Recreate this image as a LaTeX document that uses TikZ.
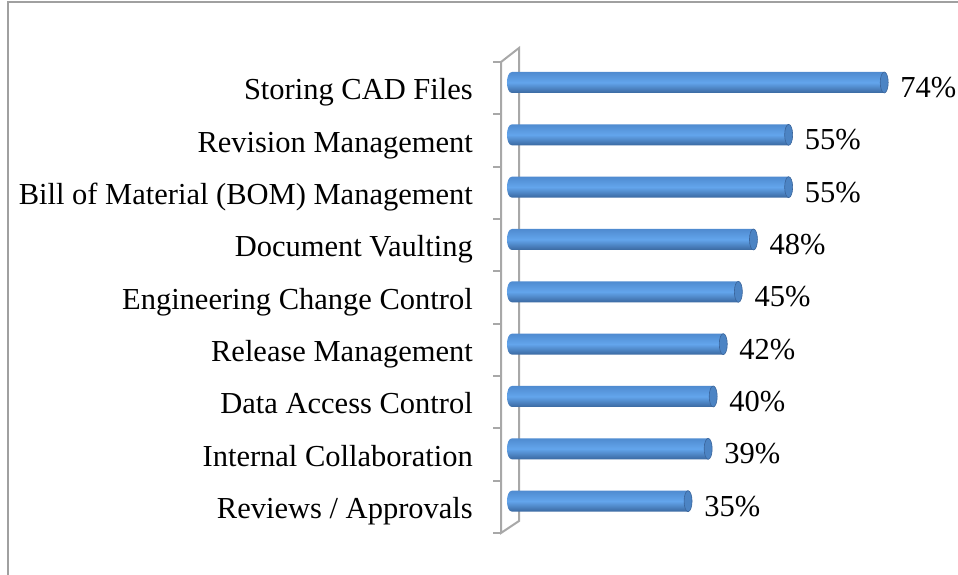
\documentclass[tikz,border=0pt]{standalone}
\usepackage{fontspec}
\setmainfont{Liberation Serif}
\definecolor{frame}{HTML}{A0A0A0}
\definecolor{wall}{HTML}{A8A8A8}
\definecolor{bartop}{HTML}{4F8BD0}
\definecolor{barmid}{HTML}{63A5EC}
\definecolor{barbot}{HTML}{3A68A0}
\definecolor{barcap}{HTML}{4C84C4}
\definecolor{capedge}{HTML}{3A649A}
\tikzset{
  catlabel/.style={anchor=base east, inner sep=0pt, font=\fontsize{30.5}{36}\selectfont},
  vallabel/.style={anchor=base west, inner sep=0pt, font=\fontsize{30.5}{36}\selectfont},
  wallline/.style={draw=wall, line width=2pt},
  barbody/.style={top color=bartop, bottom color=barbot, middle color=barmid},
  barend/.style={fill=barcap, draw=capedge, line width=0.6pt}
}
\begin{document}
\begin{tikzpicture}[x=1pt,y=-1pt]
\useasboundingbox (0,0) rectangle (958,575);
% outer frame (top and left only)
\draw[frame, line width=1.8pt] (8,575) -- (8,2) -- (958,2);
% 3D axis wall
\coordinate (ft) at (501,62);
\coordinate (fb) at (501,533);
\coordinate (bt) at (519,48);
\coordinate (bb) at (519,521);
\draw[wallline] (bt) -- (ft) -- (fb) -- (bb) -- cycle;
\foreach \k in {0,...,9}{
  \coordinate (tk\k) at (493,{62+52.33*\k});
  \draw[wallline] (tk\k) -- ++(8,0);
}
% bars
\foreach \i/\v/\lab in {
  0/74/{Storing CAD Files},
  1/55/{Revision Management},
  2/55/{Bill of Material (BOM) Management},
  3/48/{Document Vaulting},
  4/45/{Engineering Change Control},
  5/42/{Release Management},
  6/40/{Data Access Control},
  7/39/{Internal Collaboration},
  8/35/{Reviews / Approvals}}{
  \pgfmathsetmacro{\yc}{82.5+52.33*\i}
  \pgfmathsetmacro{\xr}{516+5.03*\v}
  \pgfmathsetmacro{\xe}{\xr-4}
  \shade[barbody] (\xe,\yc-10.5) -- (512,\yc-10.5)
     .. controls (505.3,\yc-10.5) and (505.3,\yc+10.5) .. (512,\yc+10.5)
     -- (\xe,\yc+10.5) -- cycle;
  \path[barend] (\xe,\yc) ellipse [x radius=4, y radius=10.5];
  \node[catlabel] (c\i) at (473,{100+52.33*\i}) {\lab};
  \node[vallabel] (v\i) at (\xr+12,{97.5+52.33*\i}) {\v\%};
}
\end{tikzpicture}
\end{document}
